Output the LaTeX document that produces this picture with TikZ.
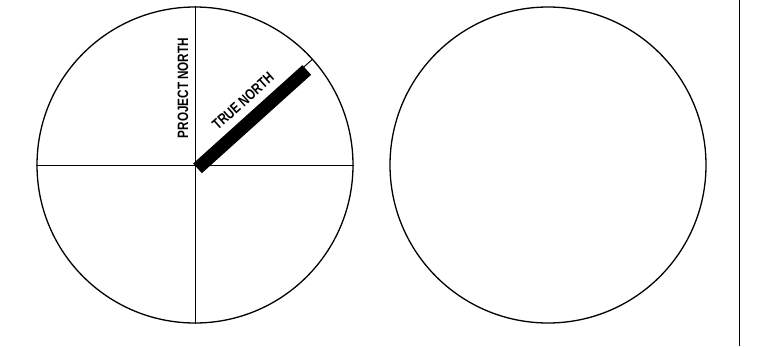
\documentclass[tikz,border=0pt]{standalone}
\usepackage{fontspec}
\setmainfont{Liberation Sans}
\usetikzlibrary{calc}
\newcommand{\narrowtxt}[1]{\scalebox{0.78}[1]{#1}}
\begin{document}
\begin{tikzpicture}[x=1pt,y=-1pt,
  ring/.style={draw=black,line width=1.3pt},
  axis/.style={draw=black,line width=1pt},
  lbl/.style={font=\bfseries\fontsize{15}{15}\selectfont,inner sep=0pt}]
\useasboundingbox (0,0) rectangle (762,346);
\coordinate (c1) at (195,165);
\coordinate (c2) at (548,165);
\node[ring,circle,minimum size=316pt,inner sep=0pt] (left) at (c1) {};
\node[ring,circle,minimum size=316pt,inner sep=0pt] (right) at (c2) {};
\draw[axis] (left.west) -- (left.east);
\draw[axis] (left.north) -- (left.south);
\coordinate (tip) at ($(c1)+(42:158pt)$);
\draw[axis] (c1) -- (tip);
\coordinate (bs) at ($(c1)+(42:-2pt)$);
\coordinate (be) at ($(c1)+(42:145pt)$);
\draw[line width=13pt] ($(bs)+(4pt,-2pt)$) -- ($(be)+(4pt,-2pt)$);
\node[lbl,rotate=90] (pn) at (183,88) {\narrowtxt{PROJECT NORTH}};
\node[lbl,rotate=42] (tn) at (243,101) {\narrowtxt{TRUE NORTH}};
\coordinate (vt) at (739.5,0);
\coordinate (vb) at (739.5,346);
\draw[line width=1.3pt] (vt) -- (vb);
\end{tikzpicture}
\end{document}
